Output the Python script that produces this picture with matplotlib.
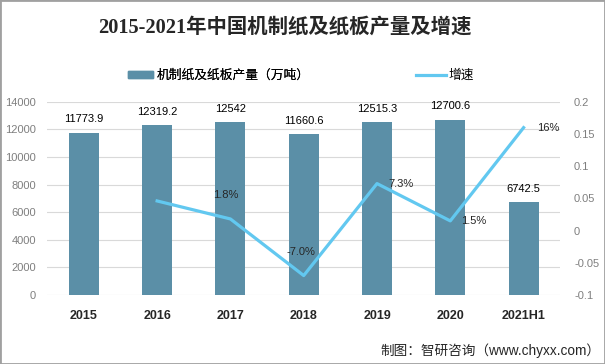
import matplotlib.pyplot as plt
import numpy as np
from matplotlib.patches import Rectangle
from matplotlib.lines import Line2D

plt.rcParams['font.family'] = ['Liberation Sans', 'Noto Sans CJK SC']

years = ['2015', '2016', '2017', '2018', '2019', '2020', '2021H1']
output = [11773.9, 12319.2, 12542, 11660.6, 12515.3, 12700.6, 6742.5]
growth_years = ['2016', '2017', '2018', '2019', '2020', '2021H1']
growth = [0.046, 0.018, -0.070, 0.073, 0.015, 0.16]
growth_labels = ['', '1.8%', '-7.0%', '7.3%', '1.5%', '16%']
label_offsets = [(0, 0), (-3, 17), (-2, 17), (17, 0), (17, 0), (18, 0)]

bar_color = '#5b8fa7'
line_color = '#62c8f0'
tick_color = '#7f7f7f'

fig = plt.figure(figsize=(6.05, 3.64), dpi=100)
fig.patches.append(Rectangle((0, 0), 1, 1, transform=fig.transFigure,
                             fill=False, edgecolor='#a0a0a0', linewidth=2))

ax1 = fig.add_axes([0.078, 0.19, 0.848, 0.53])
x = np.arange(len(years))
ax1.bar(x, output, 0.41, color=bar_color, zorder=2)
for xi, v in zip(x, output):
    ax1.annotate(f'{v:g}', (xi, v), xytext=(0, 6), textcoords='offset points',
                 ha='center', va='bottom', fontsize=8, color='black')

ax1.set_ylim(0, 14000)
ax1.set_yticks(np.arange(0, 14001, 2000))
ax1.set_xlim(-0.5, len(years) - 0.5)
ax1.set_xticks(x)
ax1.set_xticklabels(years, fontsize=9, fontweight='bold', color='#262626')
ax1.grid(axis='y', color='#d9d9d9', linewidth=0.8, zorder=0)
ax1.set_axisbelow(True)
ax1.tick_params(axis='y', length=0, labelsize=8, labelcolor=tick_color, pad=8)
ax1.tick_params(axis='x', length=0, pad=11)
for s in ax1.spines.values():
    s.set_visible(False)

ax2 = ax1.twinx()
gx = [years.index(y) for y in growth_years]
ax2.plot(gx, growth, color=line_color, linewidth=2.3, zorder=3)
for xi, v, lab, off in zip(gx, growth, growth_labels, label_offsets):
    if lab:
        ax2.annotate(lab, (xi, v), xytext=off, textcoords='offset points',
                     ha='center', va='center', fontsize=8, color='#262626')
ax2.set_ylim(-0.1, 0.2)
ax2.set_yticks([-0.1, -0.05, 0, 0.05, 0.1, 0.15, 0.2])
ax2.set_yticklabels(['-0.1', '-0.05', '0', '0.05', '0.1', '0.15', '0.2'])
ax2.tick_params(axis='y', length=0, labelsize=8, labelcolor=tick_color, pad=10)
for s in ax2.spines.values():
    s.set_visible(False)

fig.text(0.470, 0.923, '2015-2021年中国机制纸及纸板产量及增速', ha='center', va='center',
         fontsize=14.7, fontweight='bold', color='#262626',
         family=['Liberation Serif', 'Noto Sans CJK SC'])

handles = [Rectangle((0, 0), 1, 1, color=bar_color),
           Line2D([0], [0], color=line_color, linewidth=2.3)]
leg1 = fig.legend(handles[:1], ['机制纸及纸板产量（万吨）'], loc='center left',
                  bbox_to_anchor=(0.2116, 0.791), frameon=False, fontsize=9.2,
                  handlelength=1.95, handleheight=0.5, handletextpad=0.3,
                  borderpad=0, borderaxespad=0)
leg2 = fig.legend(handles[1:], ['增速'], loc='center left',
                  bbox_to_anchor=(0.688, 0.791), frameon=False, fontsize=9.2,
                  handlelength=2.3, handletextpad=0.2,
                  borderpad=0, borderaxespad=0)
fig.add_artist(leg1)

fig.text(0.992, 0.036, '制图：智研咨询（www.chyxx.com）', ha='right', va='center',
         fontsize=9.8, color='#262626')

plt.savefig('out.png', dpi=100)
